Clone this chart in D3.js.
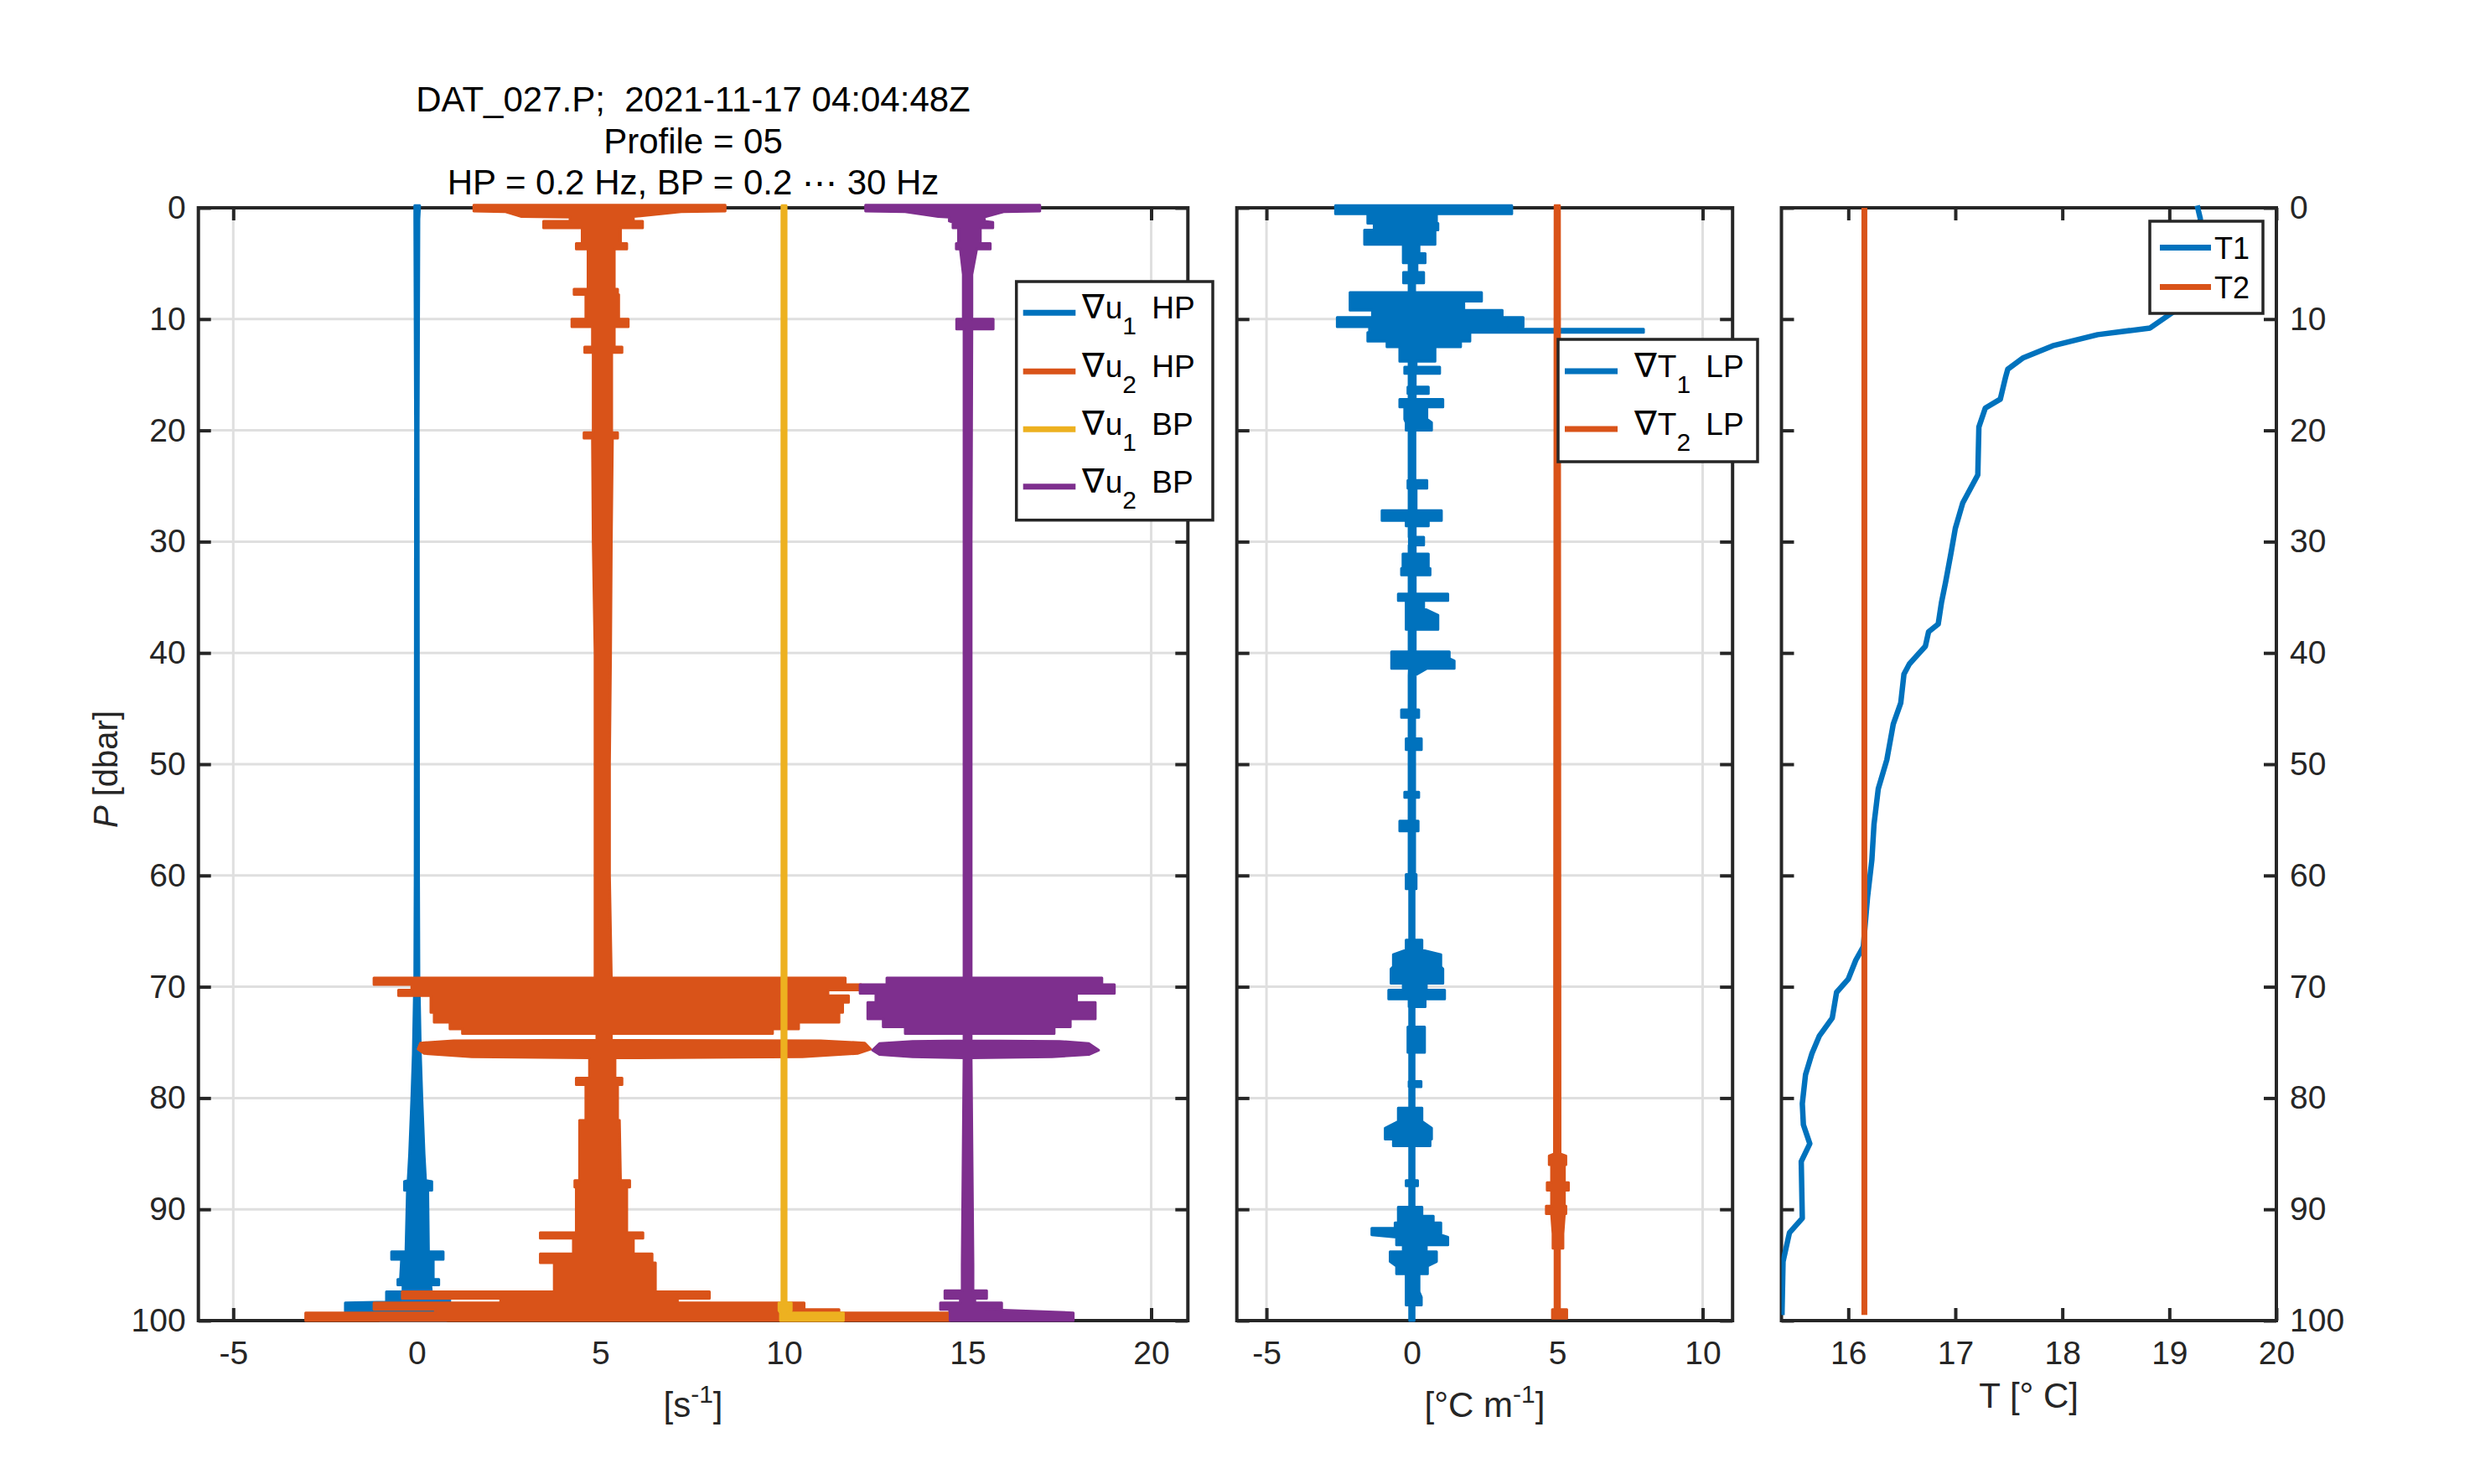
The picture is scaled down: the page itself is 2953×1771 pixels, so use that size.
<!DOCTYPE html>
<html><head><meta charset="utf-8">
<script src="https://cdn.jsdelivr.net/npm/d3@7"></script>
<style>
html,body{margin:0;padding:0;background:#fff;}
svg text{font-family:"Liberation Sans",Arial,Helvetica,sans-serif;white-space:pre;}
</style></head><body>
<svg id="chart" width="2953" height="1771"></svg>
<script>
// ---------------- data ----------------
const titleLines = ["DAT_027.P;  2021-11-17 04:04:48Z", "Profile = 05", "HP = 0.2 Hz, BP = 0.2 \u22EF 30 Hz"];
const pTicks = [0,10,20,30,40,50,60,70,80,90,100];
const uTicks = [-5,0,5,10,15,20];
const gtTicks = [-5,0,5,10];
const tTicks = [16,17,18,19,20];
const uDomain = [-5.95, 21.0];
const gtDomain = [-6.02, 11.03];
const tDomain = [15.375, 20];
const pDomain = [0, 100];

// shear envelopes: [P, left x, right x]
const du1HP = [[-0.2,-0.06,0.08],[1,-0.06,0.06],[20,-0.04,0.04],[60,-0.05,0.05],[69,-0.06,0.06],[76,-0.1,0.1],[80,-0.14,0.14],[85,-0.2,0.2],[87.4,-0.24,0.24],[87.5,-0.34,0.41],[88.3,-0.34,0.41],[88.3,-0.26,0.3],[93.8,-0.3,0.32],[93.8,-0.69,0.72],[94.5,-0.69,0.72],[94.5,-0.42,0.45],[96.3,-0.45,0.45],[96.3,-0.52,0.6],[96.8,-0.52,0.6],[96.8,-0.38,0.38],[97.4,-0.38,0.4],[97.4,-0.83,0.9],[98.3,-0.83,0.9],[98.3,-0.5,0.5],[98.4,-1.95,0.5],[99.2,-1.95,0.5],[99.2,-1.0,0.8],[100,-1.0,0.8]];
const du2HP = [[-0.25,1.55,8.4],[0.3,1.55,8.4],[0.35,2.4,7.2],[0.8,2.85,5.9],[0.85,4.17,5.9],[1.2,4.17,5.9],[1.2,3.45,6.15],[1.8,3.45,6.15],[1.8,4.5,5.55],[3.2,4.5,5.55],[3.2,4.34,5.72],[3.7,4.34,5.72],[3.7,4.66,5.38],[7.3,4.66,5.38],[7.3,4.28,5.47],[7.8,4.28,5.47],[7.8,4.6,5.5],[10.0,4.6,5.5],[10.0,4.22,5.76],[10.7,4.22,5.76],[10.7,4.78,5.38],[12.5,4.78,5.38],[12.5,4.57,5.59],[13,4.57,5.59],[13,4.8,5.31],[20.2,4.8,5.31],[20.2,4.55,5.47],[20.7,4.55,5.47],[20.7,4.78,5.33],[30,4.8,5.3],[40,4.85,5.28],[50,4.85,5.25],[60,4.85,5.25],[69.2,4.85,5.3],[69.2,-1.17,11.67],[69.8,-1.17,11.67],[69.8,-0.14,12.1],[70.3,-0.14,12.1],[70.3,-0.5,11.2],[70.8,-0.5,11.2],[70.8,0.38,11.76],[71.4,0.38,11.76],[71.4,0.38,11.6],[72.3,0.38,11.6],[72.3,0.47,11.5],[73.2,0.47,11.5],[73.2,0.9,10.4],[73.8,0.9,10.4],[73.8,1.24,9.69],[74.2,1.24,9.69],[74.2,4.9,5.3],[74.8,4.9,5.3],[74.85,1.0,11.0],[75.05,0.1,12.2],[75.6,0.03,12.36],[76.0,0.2,12.0],[76.3,1.5,10.5],[76.4,4.7,5.4],[78.2,4.7,5.4],[78.2,4.34,5.59],[78.8,4.34,5.59],[78.8,4.6,5.47],[82,4.6,5.47],[82,4.43,5.52],[87.4,4.43,5.55],[87.4,4.3,5.8],[88,4.3,5.8],[88,4.34,5.72],[92.1,4.34,5.72],[92.1,3.36,6.16],[92.6,3.36,6.16],[92.6,4.26,5.9],[94,4.26,5.9],[94,3.36,6.41],[94.8,3.36,6.41],[94.8,3.74,6.5],[97.4,3.74,6.5],[97.4,-0.4,7.97],[98.0,-0.4,7.97],[98.0,2.28,7.1],[98.4,2.28,7.1],[98.4,-1.17,10.55],[99.0,-1.17,10.55],[99.0,0.5,11.5],[99.3,0.5,11.5],[99.3,-3.03,14.5],[100,-3.03,14.5]];
const du1BP = [[-0.2,9.94,10.06],[98.4,9.94,10.06],[98.4,9.86,10.2],[99.1,9.86,10.2],[99.3,9.9,10.1],[99.3,9.9,11.62],[100,9.9,11.62]];
const du2BP = [[-0.25,12.22,16.97],[0.3,12.22,16.97],[0.35,13.3,16.0],[0.8,14.2,15.5],[0.85,14.5,15.46],[1.2,14.5,15.46],[1.3,14.6,15.69],[1.8,14.6,15.69],[1.8,14.75,15.35],[3.2,14.75,15.35],[3.2,14.69,15.62],[3.7,14.69,15.62],[3.7,14.8,15.25],[6,14.88,15.12],[10,14.88,15.12],[10,14.7,15.7],[10.9,14.7,15.7],[10.9,14.9,15.12],[30,14.9,15.1],[69.2,14.9,15.1],[69.2,12.8,18.66],[69.8,12.8,18.66],[69.8,12.07,19.0],[70.6,12.07,19.0],[70.6,12.5,17.97],[71.4,12.5,17.97],[71.4,12.28,18.48],[72.9,12.28,18.48],[72.9,12.7,17.8],[73.6,12.7,17.8],[73.6,13.3,17.36],[74.2,13.3,17.36],[74.2,14.9,15.1],[74.85,14.9,15.1],[74.9,13.5,17.5],[75.1,12.6,18.3],[75.7,12.41,18.57],[76.1,12.6,18.3],[76.3,13.5,17.3],[76.4,14.9,15.1],[95,14.85,15.15],[97.3,14.85,15.15],[97.3,14.38,15.52],[98.0,14.38,15.52],[98.0,14.8,15.2],[98.4,14.8,15.2],[98.4,14.26,15.93],[99.0,14.26,15.93],[99.0,14.5,15.5],[99.3,14.52,17.88],[100,14.52,17.88]];

// temperature gradient envelopes: [P, left x, right x]
const dT1LP = [[-0.2,-2.63,3.44],[0.55,-2.63,3.44],[0.55,-1.52,0.85],[1.4,-1.52,0.85],[1.4,-1.3,0.9],[2.0,-1.3,0.9],[2.0,-1.63,0.8],[3.3,-1.63,0.8],[3.3,-0.3,0.25],[4.1,-0.3,0.25],[4.1,-0.3,0.46],[4.95,-0.3,0.46],[4.95,-0.1,0.18],[5.8,-0.1,0.18],[5.8,-0.29,0.41],[6.75,-0.29,0.41],[6.75,-0.1,0.1],[7.6,-0.1,0.1],[7.6,-2.13,2.4],[8.4,-2.13,2.4],[8.4,-2.13,1.79],[9.2,-2.13,1.79],[9.2,-1.36,3.11],[9.85,-1.36,3.11],[9.85,-2.57,3.83],[10.7,-2.57,3.83],[10.7,-1.46,3.34],[10.9,-1.46,3.34],[10.9,-1.46,7.97],[11.2,-1.46,7.97],[11.2,-1.52,2.0],[12.0,-1.52,2.0],[12.0,-0.86,1.68],[12.5,-0.86,1.68],[12.5,-0.42,0.8],[13.8,-0.42,0.8],[13.8,-0.1,0.15],[14.3,-0.1,0.15],[14.3,-0.25,0.96],[14.9,-0.25,0.96],[14.9,-0.1,0.12],[16.1,-0.1,0.12],[16.1,-0.14,0.57],[16.7,-0.14,0.57],[16.7,-0.1,0.12],[17.2,-0.1,0.12],[17.2,-0.42,1.07],[17.9,-0.42,1.07],[17.9,-0.25,0.52],[19.0,-0.25,0.52],[19.3,-0.2,0.68],[20,-0.2,0.68],[20,-0.1,0.11],[24.5,-0.1,0.11],[24.5,-0.14,0.52],[25.2,-0.14,0.52],[25.2,-0.1,0.15],[27.2,-0.1,0.15],[27.2,-1.03,1.02],[28.1,-1.03,1.02],[28.1,-0.2,0.57],[28.6,-0.2,0.57],[28.6,-0.1,0.12],[29.6,-0.1,0.12],[29.6,-0.09,0.41],[30.3,-0.09,0.41],[30.3,-0.1,0.12],[31.1,-0.1,0.12],[31.1,-0.31,0.57],[32.4,-0.31,0.57],[32.4,-0.36,0.63],[33.0,-0.36,0.63],[33.0,-0.1,0.12],[34.7,-0.1,0.12],[34.7,-0.47,1.24],[35.3,-0.47,1.24],[35.3,-0.2,0.41],[36.0,-0.2,0.41],[36.6,-0.2,0.9],[37.9,-0.2,0.9],[37.9,-0.1,0.12],[39.9,-0.1,0.12],[39.9,-0.7,1.29],[40.5,-0.7,1.29],[40.7,-0.7,1.46],[41.4,-0.7,1.46],[41.4,-0.09,0.52],[42,-0.1,0.12],[45.1,-0.1,0.12],[45.1,-0.36,0.24],[45.8,-0.36,0.24],[45.8,-0.1,0.1],[47.7,-0.1,0.1],[47.7,-0.2,0.33],[48.7,-0.2,0.33],[48.7,-0.1,0.1],[52.5,-0.1,0.1],[52.5,-0.25,0.24],[53,-0.25,0.24],[53,-0.1,0.1],[55.1,-0.1,0.1],[55.1,-0.42,0.22],[56,-0.42,0.22],[56,-0.1,0.1],[59.9,-0.1,0.1],[59.9,-0.2,0.15],[61.2,-0.2,0.15],[61.2,-0.08,0.08],[65.8,-0.08,0.08],[65.8,-0.2,0.35],[66.7,-0.2,0.35],[67.1,-0.64,1.0],[68.2,-0.64,1.0],[68.4,-0.72,1.07],[69.7,-0.72,1.07],[69.7,-0.3,0.5],[70.3,-0.3,0.5],[70.3,-0.8,1.13],[71.1,-0.8,1.13],[71.1,-0.1,0.46],[71.8,-0.1,0.46],[71.8,-0.08,0.08],[73.6,-0.08,0.08],[73.6,-0.14,0.44],[75.9,-0.14,0.44],[75.9,-0.08,0.08],[78.5,-0.08,0.08],[78.5,-0.1,0.32],[79,-0.1,0.32],[79,-0.08,0.08],[80.9,-0.08,0.08],[80.9,-0.47,0.35],[82.1,-0.47,0.35],[82.7,-0.92,0.68],[83.7,-0.92,0.68],[83.7,-0.64,0.63],[84.3,-0.64,0.63],[84.3,-0.08,0.08],[87.4,-0.08,0.08],[87.4,-0.2,0.2],[87.9,-0.2,0.2],[87.9,-0.08,0.08],[89.8,-0.08,0.08],[89.8,-0.47,0.35],[90.6,-0.47,0.35],[90.6,-0.47,0.74],[91.2,-0.47,0.74],[91.2,-0.58,1.0],[91.7,-0.58,1.0],[91.7,-1.38,1.0],[92.3,-1.38,1.0],[92.5,-0.53,1.24],[93.2,-0.53,1.24],[93.2,-0.3,0.5],[93.8,-0.3,0.5],[93.8,-0.75,0.85],[94.7,-0.75,0.85],[95.1,-0.53,0.54],[95.8,-0.53,0.54],[95.8,-0.2,0.25],[97.4,-0.2,0.25],[97.9,-0.2,0.33],[98.6,-0.2,0.33],[98.6,-0.08,0.08],[100,-0.08,0.08]];
const dT2LP = [[-0.2,4.92,5.08],[85,4.9,5.1],[85.2,4.72,5.3],[86,4.72,5.3],[86,4.8,5.25],[87.6,4.8,5.25],[87.6,4.65,5.39],[88.3,4.65,5.39],[88.3,4.8,5.25],[89.7,4.8,5.25],[89.7,4.62,5.3],[90.4,4.62,5.3],[90.4,4.8,5.25],[92.2,4.85,5.2],[93.5,4.85,5.2],[93.5,4.92,5.08],[99,4.92,5.08],[99,4.83,5.33],[99.8,4.83,5.33]];

// temperature profiles
const T1_P = [-0.2,1,3,6,8.5,9.4,10.8,11.4,12.4,13.5,14.5,15.2,17.2,18.0,19.7,24.0,26.5,28.8,31.0,33.6,35.5,37.4,38.1,39.4,41.0,41.9,44.5,46.4,49.6,52.2,55.4,58.6,61.9,66.4,67.6,69.3,70.5,72.8,74.4,76.0,77.9,80.5,82.4,84.1,85.7,90.8,92.1,94.7,99.5];
const T1_T = [19.26,19.29,19.28,19.24,19.15,19.03,18.82,18.33,17.91,17.63,17.49,17.47,17.42,17.28,17.22,17.21,17.07,17.0,16.96,16.91,16.87,16.84,16.75,16.72,16.57,16.52,16.49,16.42,16.36,16.28,16.24,16.22,16.18,16.14,16.07,16.0,15.89,15.85,15.73,15.66,15.6,15.57,15.58,15.64,15.56,15.57,15.45,15.39,15.38];
const T2_P = [0, 99.5];
const T2_T = [16.15, 16.15];

const legend1 = [["\u2207","u","1"," HP"],["\u2207","u","2"," HP"],["\u2207","u","1"," BP"],["\u2207","u","2"," BP"]];
const legend2 = [["\u2207","T","1"," LP"],["\u2207","T","2"," LP"]];
const legend3 = ["T1","T2"];

// ---------------- styling / layout ----------------
const C = {blue:"#0072BD", orange:"#D95319", yellow:"#EDB120", purple:"#7E2F8E", axis:"#262626", grid:"#dfdfdf"};
const TOP = 248, BOT = 1576;
const FS = 39, LFS = 37, TFS = 42;
const svg = d3.select("#chart");
const y = d3.scaleLinear().domain(pDomain).range([TOP, BOT]);

function panel(id, x0, x1, dom, xt, grid, yLabelsSide) {
  const x = d3.scaleLinear().domain(dom).range([x0, x1]);
  const g = svg.append("g");
  svg.append("clipPath").attr("id", "clip" + id).append("rect")
    .attr("x", x0).attr("y", TOP - 6).attr("width", x1 - x0).attr("height", BOT - TOP + 8);
  if (grid) {
    g.append("g").selectAll("line").data(xt).join("line")
      .attr("x1", d => x(d)).attr("x2", d => x(d)).attr("y1", TOP).attr("y2", BOT)
      .attr("stroke", C.grid).attr("stroke-width", 3);
    g.append("g").selectAll("line").data(pTicks).join("line")
      .attr("y1", d => y(d)).attr("y2", d => y(d)).attr("x1", x0).attr("x2", x1)
      .attr("stroke", C.grid).attr("stroke-width", 3);
  }
  const p = {id, x, g, x0, x1, xt, yLabelsSide};
  drawAxes(p);
  p.data = svg.append("g").attr("clip-path", `url(#clip${id})`);
  return p;
}

function drawAxes(p) {
  const {x, g, x0, x1, xt, yLabelsSide} = p;
  const fmt = d => String(d);
  const style = s => {
    s.select(".domain").remove();
    s.selectAll("line").attr("stroke", C.axis).attr("stroke-width", 4);
    s.selectAll("text").attr("fill", C.axis).attr("font-size", FS)
      .attr("font-family", '"Liberation Sans",Arial,Helvetica,sans-serif');
  };
  g.append("g").attr("transform", `translate(0,${BOT})`)
    .call(d3.axisBottom(x).tickValues(xt).tickSizeInner(-15).tickSizeOuter(0).tickPadding(24).tickFormat(fmt)).call(style);
  g.append("g").attr("transform", `translate(0,${TOP})`)
    .call(d3.axisTop(x).tickValues(xt).tickSizeInner(-15).tickSizeOuter(0).tickFormat(() => "")).call(style);
  g.append("g").attr("transform", `translate(${x0},0)`)
    .call(d3.axisLeft(y).tickValues(pTicks).tickSizeInner(-15).tickSizeOuter(0).tickPadding(15)
      .tickFormat(yLabelsSide === "left" ? fmt : () => "")).call(style);
  g.append("g").attr("transform", `translate(${x1},0)`)
    .call(d3.axisRight(y).tickValues(pTicks).tickSizeInner(-15).tickSizeOuter(0).tickPadding(16)
      .tickFormat(yLabelsSide === "right" ? fmt : () => "")).call(style);
  g.append("rect").attr("x", x0).attr("y", TOP).attr("width", x1 - x0).attr("height", BOT - TOP)
    .attr("fill", "none").attr("stroke", C.axis).attr("stroke-width", 4);
}

function band(p, rows, color) {
  const area = d3.area().y(d => y(d[0])).x0(d => p.x(d[1])).x1(d => p.x(d[2]));
  p.data.append("path").attr("d", area(rows)).attr("fill", color)
    .attr("stroke", color).attr("stroke-width", 3).attr("stroke-linejoin", "round");
}

function legend(box, items, colors, sampleX, textX, rowsY, sub) {
  const g = svg.append("g");
  g.append("rect").attr("x", box[0]).attr("y", box[1]).attr("width", box[2] - box[0]).attr("height", box[3] - box[1])
    .attr("fill", "#fff").attr("stroke", C.axis).attr("stroke-width", 3.5);
  items.forEach((it, i) => {
    const yy = rowsY[i];
    g.append("line").attr("x1", sampleX[0]).attr("x2", sampleX[1]).attr("y1", yy).attr("y2", yy)
      .attr("stroke", colors[i]).attr("stroke-width", 7);
    if (sub) {
      const t = g.append("text").attr("x", textX).attr("y", yy + 7).attr("font-size", LFS).attr("fill", "#000");
      t.append("tspan").attr("font-family", '"DejaVu Sans",sans-serif').attr("font-size", 40).text(it[0]);
      t.append("tspan").attr("dx", 1).text(it[1]);
      t.append("tspan").attr("font-size", 30).attr("dy", 19).text(it[2]);
      t.append("tspan").attr("dy", -19).attr("dx", 8).text(it[3]);
    } else {
      g.append("text").attr("x", textX).attr("y", yy + 13).attr("font-size", 36).attr("fill", "#000").text(it);
    }
  });
}

// ---------------- panel 1 : shear ----------------
const p1 = panel(1, 236.7, 1417.3, uDomain, uTicks, true, "left");
band(p1, du1HP, C.blue);
band(p1, du2HP, C.orange);
band(p1, du1BP, C.yellow);
band(p1, du2BP, C.purple);

// ---------------- panel 2 : temperature gradient ----------------
const p2 = panel(2, 1475.7, 2067.2, gtDomain, gtTicks, true, "none");
band(p2, dT1LP, C.blue);
band(p2, dT2LP, C.orange);

// ---------------- panel 3 : temperature ----------------
const p3 = panel(3, 2125.5, 2716, tDomain, tTicks, false, "right");
const line = d3.line().x(d => p3.x(d[1])).y(d => y(d[0]));
p3.data.append("path").attr("d", line(T1_P.map((pp, i) => [pp, T1_T[i]])))
  .attr("fill", "none").attr("stroke", C.blue).attr("stroke-width", 6.5).attr("stroke-linejoin", "round");
p3.data.append("path").attr("d", line(T2_P.map((pp, i) => [pp, T2_T[i]])))
  .attr("fill", "none").attr("stroke", C.orange).attr("stroke-width", 7);

// ---------------- legends ----------------
legend([1212.7, 336, 1447, 620.7], legend1, [C.blue, C.orange, C.yellow, C.purple],
  [1220.7, 1283.3], 1291, [373.3, 443.3, 512.3, 580.7], true);
legend([1859, 405, 2097, 551], legend2, [C.blue, C.orange], [1867, 1930], 1950, [443, 512], true);
legend([2565, 264, 2700, 374], legend3, [C.blue, C.orange], [2577, 2638], 2642, [295.5, 342.5], false);

// ---------------- titles and labels ----------------
const tg = svg.append("g").attr("font-size", TFS).attr("fill", "#000").attr("text-anchor", "middle");
titleLines.forEach((t, i) => tg.append("text").attr("x", 827).attr("y", [133, 182.6, 232.4][i]).text(t));

function supLabel(cx, by, pre, sup, post) {
  const t = svg.append("text").attr("x", cx).attr("y", by).attr("text-anchor", "middle")
    .attr("font-size", TFS).attr("fill", C.axis);
  t.append("tspan").text(pre);
  t.append("tspan").attr("font-size", 30).attr("dy", -17).text(sup);
  t.append("tspan").attr("dy", 17).text(post);
}
supLabel(827, 1691, "[s", "-1", "]");
supLabel(1771.5, 1691, "[\u00B0C m", "-1", "]");
svg.append("text").attr("x", 2420.7).attr("y", 1680).attr("text-anchor", "middle")
  .attr("font-size", TFS).attr("fill", C.axis).text("T [\u00B0 C]");

const yl = svg.append("text").attr("transform", "translate(140,918) rotate(-90)")
  .attr("text-anchor", "middle").attr("font-size", 40).attr("fill", C.axis);
yl.append("tspan").attr("font-style", "italic").text("P");
yl.append("tspan").text(" [dbar]");
</script>
</body></html>
